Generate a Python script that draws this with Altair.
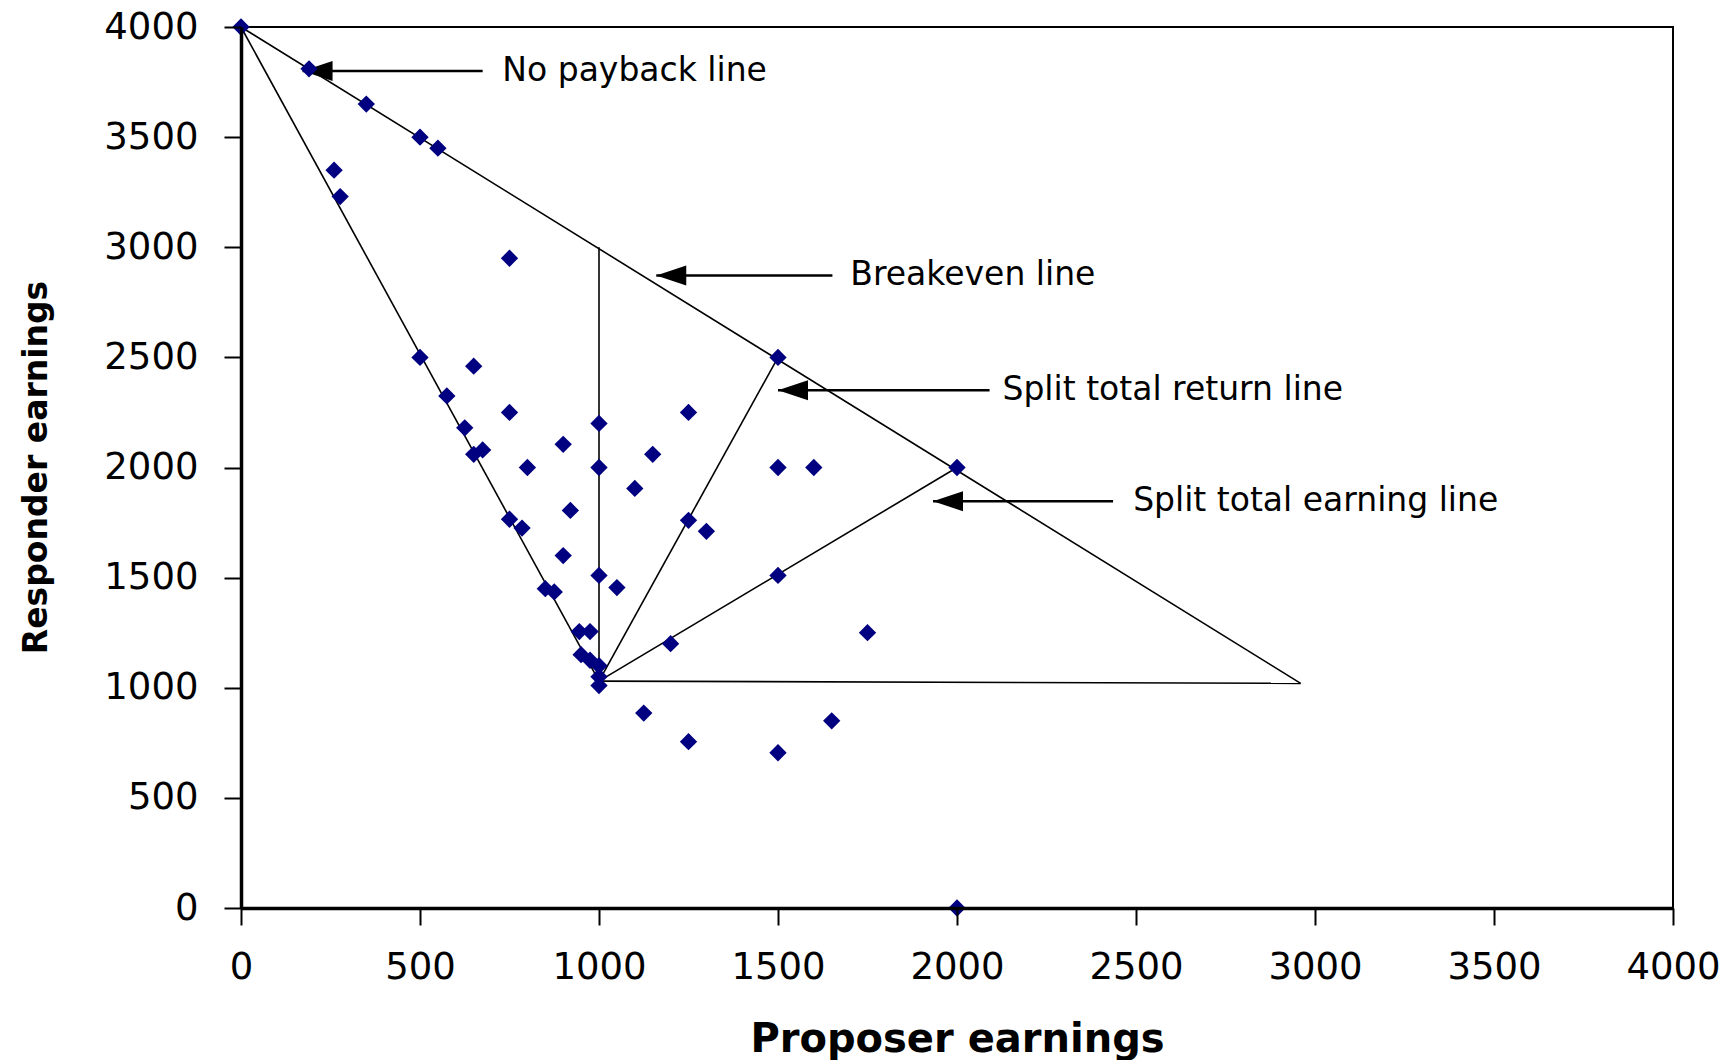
import altair as alt
import pandas as pd

# Observed (proposer, responder) earnings pairs
proposer = [0, 190, 350, 500, 550, 260, 277, 750,
            500, 650, 575, 750, 1000, 1250, 625, 900, 675, 650, 1150,
            800, 1000, 1100, 1500, 1600, 1500, 2000,
            920, 750, 785, 1250, 1300, 900, 1000, 1050, 1500,
            850, 875, 945, 975, 1750, 1200,
            950, 975, 1000, 1000, 1000,
            1125, 1650, 1250, 1500, 2000]
responder = [4000, 3810, 3650, 3500, 3450, 3350, 3230, 2950,
             2500, 2460, 2325, 2250, 2200, 2250, 2180, 2105, 2080, 2060, 2060,
             2000, 2000, 1905, 2000, 2000, 2500, 2000,
             1805, 1765, 1725, 1760, 1710, 1600, 1510, 1455, 1510,
             1450, 1435, 1255, 1255, 1250, 1200,
             1150, 1125, 1100, 1050, 1010,
             885, 850, 755, 705, 0]

# Reference lines (start and end points)
seg_x1 = [0, 0, 1000, 1000, 1000, 1000]
seg_y1 = [4000, 4000, 1030, 1030, 1030, 1030]
seg_x2 = [2960, 1000, 1000, 1500, 2000, 2960]
seg_y2 = [1020, 1030, 3000, 2500, 2000, 1020]

# Callout labels with arrows
labels = ["No payback line", "Breakeven line",
          "Split total return line", "Split total earning line"]
tip_x = [172, 1160, 1500, 1933]
tip_y = [3800, 2872, 2351, 1847]
tail_x = [675, 1652, 2091, 2436]
text_x = [730, 1702, 2127, 2492]

ticks = [0, 500, 1000, 1500, 2000, 2500, 3000, 3500, 4000]

pts = pd.DataFrame({"x": proposer, "y": responder})
segs = pd.DataFrame({"x1": seg_x1, "y1": seg_y1, "x2": seg_x2, "y2": seg_y2})
ann = pd.DataFrame({"label": labels, "tx": tip_x, "ty": tip_y,
                    "tail": tail_x, "lx": text_x})

xs = alt.Scale(domain=[0, 4000], nice=False, zero=False)
ys = alt.Scale(domain=[0, 4000], nice=False, zero=False)

common_axis = dict(values=ticks, format="d", grid=False,
                   labelFont="DejaVu Sans", labelFontSize=37,
                   labelColor="black", tickSize=17, tickWidth=2,
                   tickColor="black", domainColor="black", domainWidth=3.5,
                   labelFlush=False, labelOverlap=False, zindex=1,
                   titleFont="DejaVu Sans", titleFontWeight="bold",
                   titleColor="black")

x_axis = alt.Axis(title="Proposer earnings", labelPadding=24,
                  titleFontSize=40, titleX=716, titleY=143,
                  titleAnchor="middle", titleAlign="center",
                  titleBaseline="alphabetic", **common_axis)
y_axis = alt.Axis(title="Responder earnings", labelPadding=26,
                  titleFontSize=33, titleX=-205, titleY=440,
                  titleAngle=-90, titleAlign="center",
                  titleBaseline="middle", **common_axis)

lines = alt.Chart(segs).mark_rule(color="black", strokeWidth=1.6).encode(
    x=alt.X("x1:Q", scale=xs, axis=x_axis),
    x2="x2:Q",
    y=alt.Y("y1:Q", scale=ys, axis=y_axis),
    y2="y2:Q",
)

points = alt.Chart(pts).mark_point(
    shape="diamond", filled=True, color="#000080", size=300, opacity=1
).encode(
    x=alt.X("x:Q", scale=xs, axis=x_axis),
    y=alt.Y("y:Q", scale=ys, axis=y_axis),
)

arrow_shafts = alt.Chart(ann).mark_rule(color="black", strokeWidth=2.5).encode(
    x=alt.X("tx:Q", scale=xs, axis=x_axis),
    x2="tail:Q",
    y=alt.Y("ty:Q", scale=ys, axis=y_axis),
)

arrow_heads = alt.Chart(ann).mark_point(
    shape="M 0 0 L 2 -0.67 L 2 0.67 Z", filled=True, color="black",
    size=900, opacity=1, strokeWidth=0
).encode(
    x=alt.X("tx:Q", scale=xs, axis=x_axis),
    y=alt.Y("ty:Q", scale=ys, axis=y_axis),
)

texts = alt.Chart(ann).mark_text(
    align="left", baseline="middle", font="DejaVu Sans", fontSize=33,
    color="black"
).encode(
    x=alt.X("lx:Q", scale=xs, axis=x_axis),
    y=alt.Y("ty:Q", scale=ys, axis=y_axis),
    text="label:N",
)

chart = alt.layer(lines, arrow_shafts, arrow_heads, points, texts).properties(
    width=1432, height=881,
    autosize=alt.AutoSizeParams(type="none"),
    padding={"left": 241, "top": 27, "right": 54, "bottom": 152},
    background="white",
).configure_view(stroke="black", strokeWidth=2)

chart.save("out.html", embed_options={"renderer": "svg", "actions": False})
